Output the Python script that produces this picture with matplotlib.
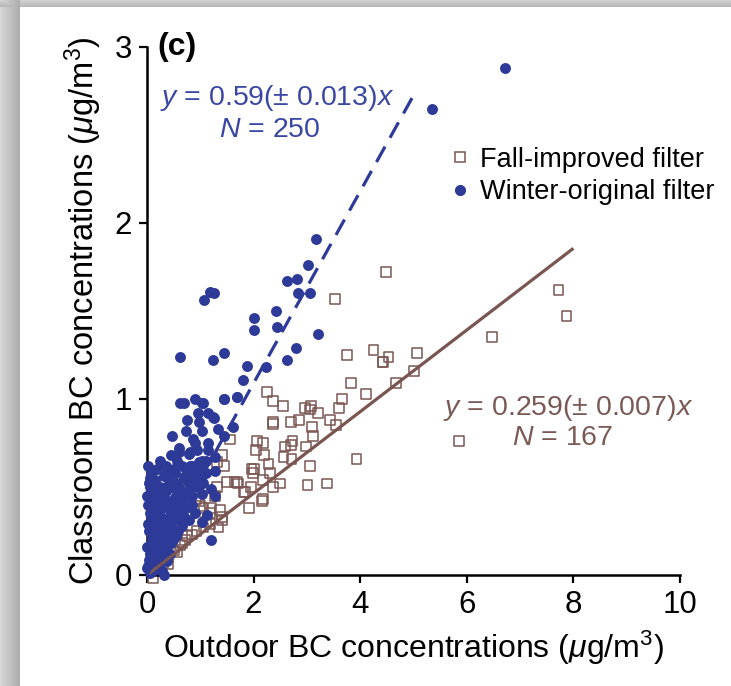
import numpy as np
import matplotlib
matplotlib.use("Agg")
import matplotlib.pyplot as plt
from matplotlib.lines import Line2D

plt.rcParams['font.family'] = ['Liberation Sans', 'DejaVu Sans']
plt.rcParams['mathtext.fontset'] = 'custom'
plt.rcParams['mathtext.rm'] = 'Liberation Sans'
plt.rcParams['mathtext.it'] = 'Liberation Sans:italic'

# ---------------- data ----------------
winter_x = [6.72, 5.35, 3.17, 3.03, 2.63, 2.82, 2.84, 3.06, 1.18, 1.26, 1.07, 2.00, 2.42, 2.00, 2.43,
            3.20, 2.79, 2.63, 1.44, 1.23, 1.88, 2.23, 1.80, 1.05, 1.44, 1.69, 1.23, 0.62,
            0.62, 0.70, 0.90, 1.03, 1.44, 1.69, 0.46, 0.74, 0.97, 1.25, 1.03, 1.34, 1.62, 1.44,
            0.87, 1.15, 0.93, 1.15, 0.78, 0.56, 1.03, 1.28, 0.74, 0.90, 0.37, 0.53, 0.15, 0.31,
            0.71, 1.03, 1.28, 0.15, 0.90, 1.21, 1.28, 1.03, 0.78, 0.53, 0.28, 0.09, 0.40, 0.65,
            0.90, 1.12, 1.03, 0.78, 0.53, 0.24, 0.02, 0.34, 0.59, 1.21, 0.15, 0.40, 0.00, 0.15,
            0.34, 0.03, 0.21, 0.00, 0.09, 0.31, 0.05, 0.02, 0.05, 0.00, 0.03, 0.08, 0.01, 0.10,
            0.12, 0.20, 0.25, 0.18, 0.05, 0.45, 0.60, 0.80, 0.35, 0.50, 0.70, 0.25, 0.45, 0.15,
            0.05, 0.10, 0.20, 0.30, 0.35, 0.45, 0.60, 0.70, 0.85, 0.95, 0.10, 0.20, 0.30, 0.45,
            0.60, 0.70, 0.85, 0.05, 0.15, 0.25, 0.40, 0.50, 0.65, 0.10, 0.20, 0.30, 0.45, 0.55,
            0.05, 0.15, 0.25, 0.35, 0.10, 0.20, 0.28, 0.06, 0.12, 0.40, 0.55, 0.75, 0.65, 0.50,
            0.35, 0.25, 0.85, 1.00, 0.80, 0.90, 1.10, 0.02, 0.04, 0.08, 0.60, 0.75, 1.15, 0.95,
            0.08, 0.18, 0.28, 0.38, 0.48, 0.58, 0.68, 0.78, 0.13, 0.23, 0.33, 0.43, 0.53, 0.63,
            0.73, 0.08, 0.18, 0.28, 0.38, 0.48, 0.58, 0.13, 0.23, 0.33, 0.43, 0.08, 0.18, 0.28,
            0.38, 0.13, 0.23, 0.95, 1.05, 1.10, 0.88, 0.98, 0.70, 0.82, 0.40, 0.55]
winter_y = [2.88, 2.65, 1.91, 1.76, 1.67, 1.68, 1.60, 1.60, 1.61, 1.60, 1.56, 1.46, 1.50, 1.39, 1.41,
            1.37, 1.29, 1.22, 1.26, 1.22, 1.19, 1.18, 1.11, 0.98, 1.00, 1.01, 0.90, 1.24,
            0.98, 0.98, 1.00, 0.98, 1.00, 1.01, 0.79, 0.82, 0.87, 0.89, 0.82, 0.83, 0.84, 0.79,
            0.77, 0.75, 0.71, 0.71, 0.69, 0.65, 0.65, 0.67, 0.61, 0.60, 0.58, 0.58, 0.54, 0.56,
            0.56, 0.57, 0.59, 0.53, 0.53, 0.49, 0.45, 0.46, 0.47, 0.44, 0.46, 0.42, 0.39, 0.37,
            0.35, 0.34, 0.30, 0.31, 0.33, 0.33, 0.29, 0.27, 0.25, 0.20, 0.23, 0.21, 0.16, 0.15,
            0.13, 0.085, 0.075, 0.04, 0.03, 0.00, 0.01, 0.62, 0.35, 0.45, 0.25, 0.10, 0.05, 0.20,
            0.30, 0.40, 0.50, 0.60, 0.55, 0.68, 0.72, 0.62, 0.48, 0.40, 0.45, 0.12, 0.28, 0.38,
            0.50, 0.45, 0.48, 0.45, 0.50, 0.50, 0.50, 0.47, 0.45, 0.50, 0.38, 0.35, 0.38, 0.35,
            0.38, 0.33, 0.40, 0.30, 0.30, 0.27, 0.28, 0.25, 0.28, 0.22, 0.18, 0.20, 0.18, 0.22,
            0.12, 0.10, 0.12, 0.15, 0.06, 0.05, 0.02, 0.02, 0.15, 0.42, 0.45, 0.55, 0.62, 0.60,
            0.62, 0.65, 0.62, 0.60, 0.70, 0.75, 0.65, 0.40, 0.52, 0.58, 0.70, 0.88, 0.92, 0.92,
            0.42, 0.42, 0.42, 0.42, 0.40, 0.42, 0.40, 0.52, 0.33, 0.33, 0.32, 0.30, 0.32, 0.34,
            0.38, 0.25, 0.24, 0.23, 0.22, 0.20, 0.32, 0.17, 0.15, 0.13, 0.12, 0.08, 0.07, 0.08,
            0.08, 0.03, 0.04, 0.55, 0.52, 0.58, 0.58, 0.64, 0.55, 0.50, 0.55, 0.52]

fall_x = [3.75, 4.25, 4.42, 4.53, 4.67, 3.82, 4.11, 2.25, 2.36, 2.55, 2.96, 3.07, 3.06, 3.21, 3.66,
          3.60, 2.85, 2.70, 2.36, 3.43, 3.55, 3.09, 3.12, 2.73, 2.70, 2.06, 2.18, 2.05, 2.59, 2.98,
          2.19, 2.56, 2.71, 2.28, 3.06, 3.93, 1.96, 1.99, 2.31, 2.18, 2.50, 3.01, 3.37, 2.36, 1.95,
          1.81, 1.64, 1.70, 2.17, 2.15, 1.92,
          4.48, 7.72, 7.87, 6.47, 4.43, 5.07, 5.01, 5.85, 3.52,
          2.37, 1.40, 1.31, 1.45, 2.00, 1.50, 1.69, 0.87, 1.31, 0.97, 1.06, 1.21, 1.37, 1.40,
          1.34, 1.18, 1.06, 0.93, 0.84, 0.71, 0.62, 0.56, 0.40, 0.31, 0.12, 0.40, 0.99, 1.18,
          1.40, 0.81, 0.93, 1.28, 1.84, 1.56, 0.20, 0.25, 0.50, 0.65, 0.75, 1.10]
fall_y = [1.25, 1.28, 1.21, 1.24, 1.09, 1.09, 1.03, 1.04, 0.99, 0.96, 0.95, 0.96, 0.94, 0.92, 1.00,
          0.95, 0.88, 0.87, 0.87, 0.88, 0.85, 0.84, 0.79, 0.76, 0.74, 0.76, 0.75, 0.71, 0.73, 0.73,
          0.68, 0.67, 0.66, 0.63, 0.62, 0.66, 0.60, 0.58, 0.58, 0.54, 0.52, 0.51, 0.52, 0.50, 0.50,
          0.47, 0.53, 0.52, 0.43, 0.42, 0.38,
          1.72, 1.62, 1.47, 1.35, 1.21, 1.26, 1.16, 0.76, 1.57,
          0.86, 0.68, 0.64, 0.62, 0.60, 0.53, 0.53, 0.53, 0.50, 0.42, 0.38, 0.38, 0.37, 0.31,
          0.27, 0.29, 0.27, 0.25, 0.23, 0.20, 0.17, 0.13, 0.10, 0.066, -0.02, 0.06, 0.39, 0.35,
          0.33, 0.54, 0.43, 0.45, 0.47, 0.77, 0.03, 0.08, 0.14, 0.18, 0.22, 0.30]

winter_fit_slope = 0.545   # as drawn in the figure
winter_fit_x = [0.0, 5.0]
fall_fit_slope = 0.232
fall_fit_x = [0.0, 8.0]

xticks = [0, 2, 4, 6, 8, 10]
yticks = [0, 1, 2, 3]

BLUE = '#2e3a98'
BLUE_TXT = '#3a46a3'
BROWN = '#7a5652'
BROWN_TXT = '#7b5a56'

W, H = 731, 686
fig = plt.figure(figsize=(W / 100, H / 100), dpi=100)

# background frame with gray shadow on left/top
bg = fig.add_axes([0, 0, 1, 1], zorder=-10)
img = np.ones((H, W, 3))
left = np.linspace(0.84, 0.68, 20)
for i in range(20):
    img[:, i, :] = left[i]
top = np.linspace(0.82, 0.72, 7)
for j in range(7):
    img[j, :, :] = np.minimum(img[j, :, :], top[j])
bg.imshow(img, aspect='auto', extent=[0, W, H, 0])
bg.axis('off')

ax = fig.add_axes([147 / W, (H - 575) / H, (680 - 147) / W, (575 - 47) / H])
ax.set_facecolor('none')

ax.scatter(fall_x, fall_y, marker='s', s=50, facecolors='none', edgecolors=BROWN,
           linewidths=1.1, zorder=2, clip_on=False)
ax.scatter(winter_x, winter_y, marker='o', s=62, color=BLUE, linewidths=0, zorder=3,
           clip_on=False)

fx = np.array(fall_fit_x)
ax.plot(fx, fall_fit_slope * fx, color=BROWN, lw=2.3, zorder=4, solid_capstyle='butt')
wx = np.array(winter_fit_x)
ax.plot(wx, winter_fit_slope * wx, color=BLUE, lw=2.3, ls=(0, (5.5, 3.2)), zorder=4)

ax.set_xlim(0, 10)
ax.set_ylim(0, 3)
ax.set_xticks(xticks)
ax.set_yticks(yticks)
for s in ['top', 'right']:
    ax.spines[s].set_visible(False)
for s in ['left', 'bottom']:
    ax.spines[s].set_linewidth(1.8)
ax.tick_params(direction='out', length=6, width=1.6, labelsize=22.5, pad=5)

ax.set_xlabel(r'Outdoor BC concentrations ($\mathit{\mu}$g/m$^{3}$)', fontsize=23, labelpad=6)
ax.set_ylabel(r'Classroom BC concentrations ($\mathit{\mu}$g/m$^{3}$)', fontsize=23.5, labelpad=7)

ax.text(0.2, 3.0, '(c)', fontsize=23, fontweight='bold', va='center', ha='left')
ax.text(0.25, 2.71, r'$y$ = 0.59(± 0.013)$x$', fontsize=20.5, color=BLUE_TXT, va='center', ha='left')
ax.text(2.3, 2.53, r'$N$ = 250', fontsize=20.5, color=BLUE_TXT, va='center', ha='center')
ax.text(5.55, 0.95, r'$y$ = 0.259(± 0.007)$x$', fontsize=20.5, color=BROWN_TXT, va='center', ha='left')
ax.text(7.8, 0.78, r'$N$ = 167', fontsize=20.5, color=BROWN_TXT, va='center', ha='center')

handles = [Line2D([], [], marker='s', ls='none', markerfacecolor='none', markeredgecolor=BROWN,
                  markersize=6.5, markeredgewidth=1.1),
           Line2D([], [], marker='o', ls='none', color=BLUE, markersize=7)]
fig.legend(handles, ['Fall-improved filter', 'Winter-original filter'], loc='upper left',
           bbox_to_anchor=(434 / W, 1 - 133 / H), frameon=False, fontsize=19.5,
           handletextpad=0.3, labelspacing=0.25, handlelength=0.9, borderpad=0)

fig.savefig('out.png', dpi=100)
